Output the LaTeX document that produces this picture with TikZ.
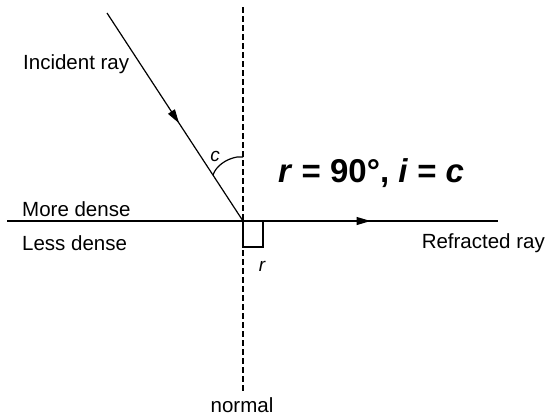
\documentclass[tikz,border=0pt]{standalone}
\usepackage{fontspec}
\setmainfont{Liberation Sans}
\usetikzlibrary{arrows.meta,decorations.markings}
\begin{document}
\begin{tikzpicture}[x=1pt,y=-1pt,
  lbl/.style={inner sep=0pt,font=\fontsize{20.5}{24}\selectfont},
  sym/.style={inner sep=0pt,font=\fontsize{19}{22}\selectfont\itshape},
  ray/.style={line width=1.2pt},
  midarrow/.style={postaction={decorate},decoration={markings,
     mark=at position #1 with {\arrow{Triangle[length=14pt,width=8pt]}}}},
  normalline/.style={line width=1.2pt,dash pattern=on 6pt off 3pt}]
\useasboundingbox (0,0) rectangle (546,416);
% points
\coordinate (O) at (243,221);
\coordinate (A) at (107,13);
\coordinate (NT) at (243,7);
\coordinate (NB) at (243,393);
\coordinate (BL) at (7,221);
\coordinate (BR) at (498,221);
% normal
\draw[normalline] (NT) -- (NB);
% boundary
\draw[line width=1.2pt] (BL) -- (BR);
% incident ray
\draw[ray,midarrow=0.53] (A) -- (O);
% refracted ray
\draw[line width=1.2pt,midarrow=0.5] (O) -- (BR);
\draw[line width=2pt] (368,221) -- (BR);
% right angle box
\draw[line width=1.2pt] (O) -| (263,247) -| (O);
% angle c
\coordinate (C1) at (243,157);
\coordinate (C2) at (213,175);
\draw[line width=1.2pt] (C1) -- (237,157) .. controls (226,159) and (216,166) .. (C2);
% labels
\node[lbl,anchor=base west] (inc) at (23,69) {Incident ray};
\node[lbl,anchor=base west] (more) at (22,216) {More dense};
\node[lbl,anchor=base west] (less) at (22,250) {Less dense};
\node[lbl,anchor=base east] (refr) at (545,248) {Refracted ray};
\node[lbl,anchor=base] (nrm) at (242,412) {normal};
\node[sym] (clbl) at (215,156) {c};
\node[sym] (rlbl) at (262,266) {r};
\node[inner sep=0pt,anchor=base west,font=\fontsize{33}{38}\selectfont\bfseries] (eq) at (278,182)
  {\textit{r} = 90°, \textit{i} = \textit{c}};
\end{tikzpicture}
\end{document}
